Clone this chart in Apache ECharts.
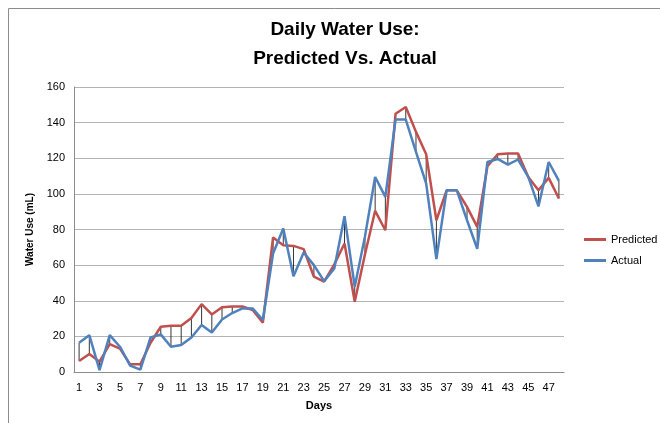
<!DOCTYPE html>
<html><head><meta charset="utf-8">
<script src="https://cdn.jsdelivr.net/npm/echarts@6/dist/echarts.min.js"></script>
<style>html,body{margin:0;padding:0;background:#fff}#c{width:660px;height:423px}</style>
</head><body><div id="c"></div>
<script>
const days = Array.from({length:48},(_,i)=>String(i+1));
const predicted = [6.2,10.1,5.8,15.7,13.1,4.3,4.3,16.4,25.4,26,26,30.3,38.1,32.3,36.4,36.8,36.8,34.8,27.7,75.5,71.2,70.8,69,53.5,50.7,60.4,72.1,39.4,66,90.5,79.6,145,148.8,134.8,122.2,85.2,102,102,92.7,81.5,115.5,122.2,122.6,122.6,109.5,102,109,97.4];
const actual = [16.4,20.7,1.1,20.7,14.2,3.6,1.3,19.4,21.1,14.2,15.1,19.4,26.4,22.2,29.5,33.1,35.7,35.7,29.2,66.5,80.6,53.8,67.1,60,51,58.1,87.5,47.9,76,109.5,98.3,141.7,141.7,123.6,105.8,63.4,102,102,85.2,69.2,117.9,119.6,116.4,119.3,109.5,93,117.9,107.3];
const yTicks = {min:0,max:160,interval:20};

const chart = echarts.init(document.getElementById('c'));
const font = '"Liberation Sans",sans-serif';
chart.setOption({
  animation:false,
  textStyle:{fontFamily:font},
  graphic:[{type:'rect',shape:{x:8.5,y:8.5,width:700,height:500},style:{fill:'none',stroke:'#8c8c8c',lineWidth:1},silent:true}],
  title:{text:'Daily Water Use:\nPredicted Vs. Actual',left:340,textAlign:'center',top:10,
    textStyle:{fontFamily:font,fontSize:19,fontWeight:'bold',color:'#000',lineHeight:29}},
  legend:{orient:'vertical',left:579,top:229,itemWidth:22,itemHeight:3,itemGap:10,
    textStyle:{fontFamily:font,fontSize:11,color:'#000'},
    data:[{name:'Predicted',icon:'rect'},{name:'Actual',icon:'rect'}]},
  grid:{left:74,right:96,top:87,bottom:51},
  xAxis:{type:'category',data:days,boundaryGap:true,
    name:'Days',nameLocation:'middle',nameGap:28,
    nameTextStyle:{fontFamily:font,fontWeight:'bold',fontSize:11,color:'#000'},
    axisLine:{lineStyle:{color:'#8c8c8c'}},axisTick:{show:false},
    axisLabel:{interval:1,color:'#000',fontSize:11,fontFamily:font,margin:10}},
  yAxis:{type:'value',min:yTicks.min,max:yTicks.max,interval:yTicks.interval,
    name:'Water Use (mL)',nameLocation:'middle',nameGap:35,nameRotate:90,
    nameTextStyle:{fontFamily:font,fontWeight:'bold',fontSize:10,color:'#000'},
    axisLine:{show:true,lineStyle:{color:'#8c8c8c'}},axisTick:{show:false},
    splitLine:{lineStyle:{color:'#b3b3b3'}},
    axisLabel:{color:'#000',fontSize:11,fontFamily:font,margin:9}},
  series:[
    {type:'custom',name:'hl',silent:true,z:1,
      data:days.map((d,i)=>[i,predicted[i],actual[i]]),
      encode:{x:0,y:[1,2]},
      renderItem:function(params,api){
        const a=api.coord([api.value(0),api.value(1)]);
        const b=api.coord([api.value(0),api.value(2)]);
        return {type:'line',shape:{x1:a[0],y1:a[1],x2:b[0],y2:b[1]},style:{stroke:'#000',lineWidth:0.8}};
      }},
    {type:'line',name:'Predicted',data:predicted,showSymbol:false,symbol:'none',z:2,
      lineStyle:{color:'#C0504D',width:2.5},itemStyle:{color:'#C0504D'}},
    {type:'line',name:'Actual',data:actual,showSymbol:false,symbol:'none',z:3,
      lineStyle:{color:'#4F81BD',width:2.5},itemStyle:{color:'#4F81BD'}}
  ]
});
</script></body></html>
